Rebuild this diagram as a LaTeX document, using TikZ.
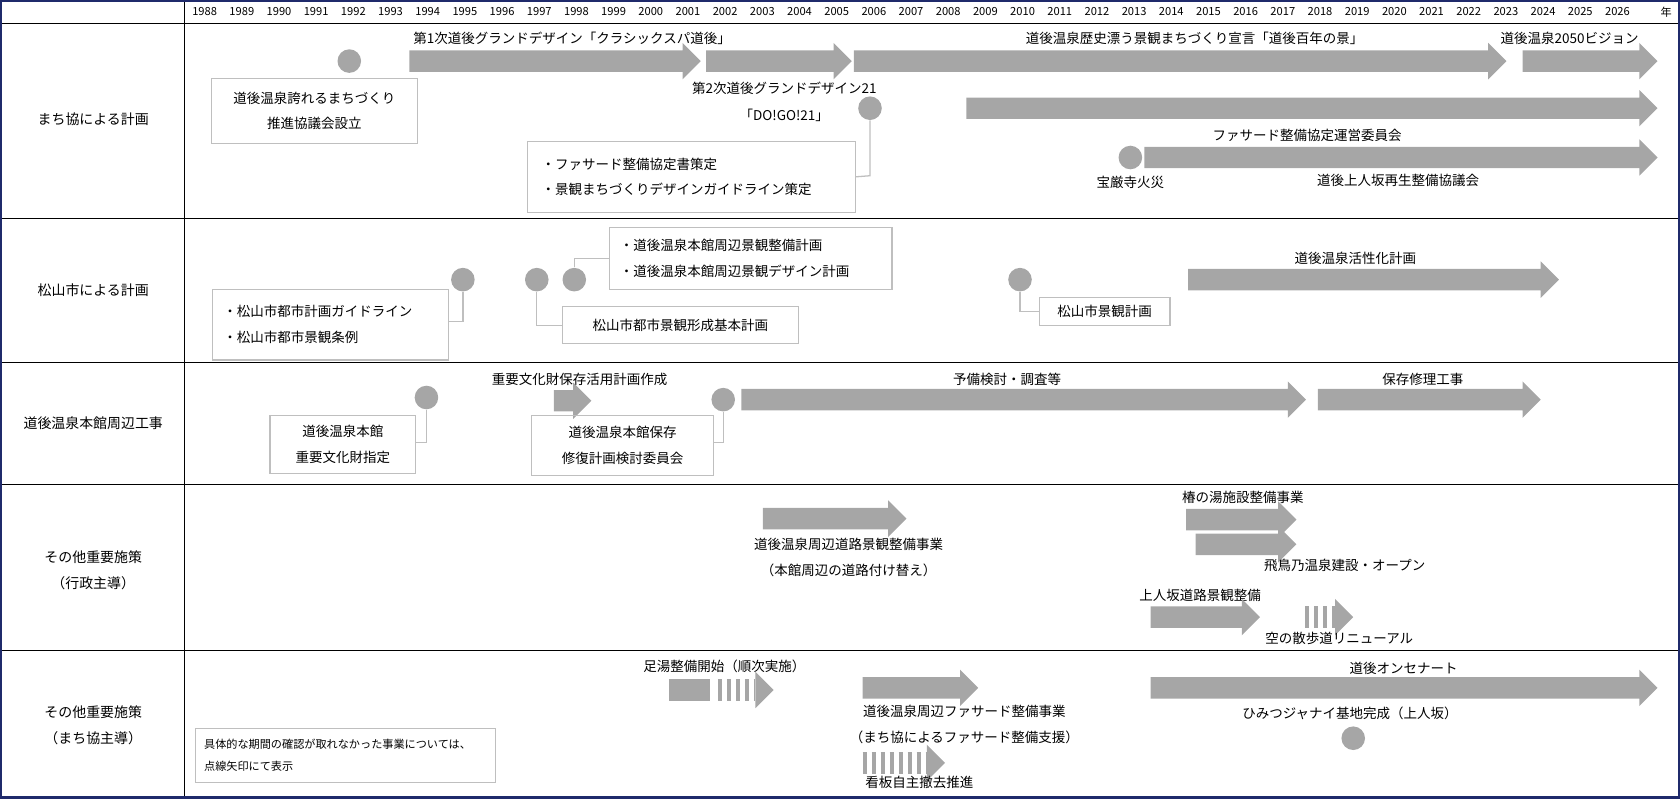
\documentclass[tikz,border=0pt]{standalone}
\usepackage{fontspec}
\setmainfont{Noto Sans CJK JP}
\usetikzlibrary{positioning,calc}
\definecolor{arrowgray}{HTML}{A6A6A6}
\definecolor{boxgray}{HTML}{BFBFBF}
\definecolor{navy}{HTML}{1F2A6B}
\tikzset{
  txt/.style={inner sep=0pt, font=\fontsize{6.3}{7}\selectfont},
  yr/.style={inner sep=0pt, font=\fontsize{5.2}{6}\selectfont},
  head/.style={inner sep=0pt, font=\fontsize{6.5}{7}\selectfont, align=center},
  note/.style={draw=boxgray, line width=0.5pt, inner sep=0pt, font=\fontsize{6.3}{7}\selectfont},
  dot/.style={circle, fill=arrowgray, inner sep=0pt, minimum size=11pt},
  link/.style={draw=boxgray, line width=0.6pt}
}
% solid arrow: from x1 to x2 at y
\newcommand{\garrow}[3]{\fill[arrowgray] (#1,#3-10) -- (#2-17,#3-10) -- (#2-17,#3-17) -- (#2,#3) -- (#2-17,#3+17) -- (#2-17,#3+10) -- (#1,#3+10) -- cycle;}
% dotted arrow: bars then head
\newcommand{\darrow}[3]{\draw[arrowgray, line width=10pt, dash pattern=on 2pt off 2.2pt] (#1,#3) -- (#2-17,#3);
  \fill[arrowgray] (#2-17,#3-17) -- (#2,#3) -- (#2-17,#3+17) -- cycle;}
\begin{document}
\begin{tikzpicture}[x=0.5pt, y=-0.5pt]
\useasboundingbox (0,0) rectangle (1568,745);
% grid
\draw[line width=0.5pt] (172,0) -- (172,745);
\foreach \yy in {22,204,338,452,607} \draw[line width=0.6pt] (0,\yy) -- (1568,\yy);
\draw[navy, line width=1.5pt] (0.75,0.75) rectangle (1567.25,744.25);
\foreach \yy [count=\i from 0] in {1988,...,2026} \node[yr] at (191+34.7*\i,11) {\yy};
\node[yr] at (1555,11) {年};

% row labels
\node[head] (r1) at (87,111) {まち協による計画};
\node[head] (r2) at (87,271) {松山市による計画};
\node[head] (r3) at (87,395) {道後温泉本館周辺工事};
\node[head, align=center] (r4) at (87,532) {その他重要施策\\[5pt]（行政主導）};
\node[head, align=center] (r5) at (87,677) {その他重要施策\\[5pt]（まち協主導）};

% まち協
\node[dot] (c1) at (326,57) {};
\node[note, minimum width=96.5pt, minimum height=30.5pt, align=center] (b1) at (293.5,103.5) {道後温泉誇れるまちづくり\\[5pt]推進協議会設立};
\garrow{382}{654}{57}
\node[txt] (t1) at (534,36) {第1次道後グランドデザイン「クラシックスパ道後」};
\garrow{659}{795}{57}
\node[txt] (t2) at (732,82) {第2次道後グランドデザイン21};
\node[txt] (t3) at (732,108) {「DO!GO!21」};
\node[dot] (c2) at (812,101) {};
\node[note, minimum width=153pt, minimum height=33pt, align=left, anchor=west, text width=140pt, inner xsep=6pt] (b2) at (492,165) {・ファサード整備協定書策定\\[5pt]・景観まちづくりデザインガイドライン策定};
\draw[link] (c2) -- (812,164) -- (b2.east);
\garrow{797}{1406}{57}
\node[txt] (t4) at (1115,36) {道後温泉歴史漂う景観まちづくり宣言「道後百年の景」};
\garrow{1421}{1547}{57}
\node[txt] (t5) at (1465,36) {道後温泉2050ビジョン};
\garrow{902}{1547}{101}
\node[txt] (t6) at (1220,126) {ファサード整備協定運営委員会};
\node[dot] (c3) at (1055,147) {};
\garrow{1068}{1547}{147}
\node[txt] (t7) at (1055,170) {宝厳寺火災};
\node[txt] (t8) at (1305,168) {道後上人坂再生整備協議会};

% 松山市
\node[dot] (c4) at (432,261) {};
\node[dot] (c5) at (501,261) {};
\node[dot] (c6) at (536,261) {};
\node[dot] (c7) at (952,261) {};
\node[note, minimum width=110pt, minimum height=33pt, align=left, anchor=west, text width=100pt, inner xsep=5pt] (b3) at (198,303) {・松山市都市計画ガイドライン\\[5pt]・松山市都市景観条例};
\draw[link] (c4) -- (432,300) -- (b3.east |- 0,300);
\node[note, minimum width=132pt, minimum height=29pt, align=left, anchor=west, text width=122pt, inner xsep=5pt] (b4) at (568,241) {・道後温泉本館周辺景観整備計画\\[5pt]・道後温泉本館周辺景観デザイン計画};
\draw[link] (c6) -- (536,241) -- (b4.west);
\node[note, minimum width=110pt, minimum height=17.5pt] (b5) at (635,303.5) {松山市都市景観形成基本計画};
\draw[link] (c5) -- (501,303.5) -- (b5.west);
\node[note, minimum width=61pt, minimum height=13pt] (b6) at (1031,291) {松山市景観計画};
\draw[link] (c7) -- (952,291) -- (b6.west);
\garrow{1109}{1455}{261}
\node[txt] (t9) at (1265,241) {道後温泉活性化計画};

% 本館周辺工事
\node[dot] (c8) at (398,371) {};
\node[note, minimum width=68pt, minimum height=27pt, align=center] (b7) at (320,415) {道後温泉本館\\[5pt]重要文化財指定};
\draw[link] (c8) -- (398,413) -- (b7.east |- 0,413);
\node[txt] (t10) at (541,354) {重要文化財保存活用計画作成};
\garrow{517}{552}{374}
\node[dot] (c9) at (675,373) {};
\node[note, minimum width=85pt, minimum height=28pt, align=center] (b8) at (581,416) {道後温泉本館保存\\[5pt]修復計画検討委員会};
\draw[link] (c9) -- (675,413) -- (b8.east |- 0,413);
\garrow{692}{1219}{373}
\node[txt] (t11) at (940,354) {予備検討・調査等};
\garrow{1230}{1438}{373}
\node[txt] (t12) at (1328,354) {保存修理工事};

% 行政主導
\garrow{712}{846}{484}
\node[txt] (t13) at (792,508) {道後温泉周辺道路景観整備事業};
\node[txt] (t14) at (792,532) {（本館周辺の道路付け替え）};
\node[txt] (t15) at (1160,464) {椿の湯施設整備事業};
\garrow{1107}{1210}{485}
\garrow{1116}{1210}{508}
\node[txt] (t16) at (1255,528) {飛鳥乃温泉建設・オープン};
\node[txt] (t17) at (1120,556) {上人坂道路景観整備};
\garrow{1074}{1176}{576}
\darrow{1218}{1263}{576}
\node[txt] (t18) at (1250,596) {空の散歩道リニューアル};

% まち協主導
\node[txt] (t19) at (676,622) {足湯整備開始（順次実施）};
\fill[arrowgray] (624,634) rectangle (663,654);
\darrow{670}{722}{644}
\garrow{805}{913}{642}
\node[txt] (t20) at (900,664) {道後温泉周辺ファサード整備事業};
\node[txt] (t21) at (900,688) {（まち協によるファサード整備支援）};
\darrow{805}{882}{712}
\node[txt] (t22) at (858,730) {看板自主撤去推進};
\garrow{1074}{1547}{642}
\node[txt] (t23) at (1310,624) {道後オンセナート};
\node[txt] (t24) at (1260,666) {ひみつジャナイ基地完成（上人坂）};
\node[dot] (c10) at (1263,689) {};
\node[note, minimum width=140pt, minimum height=25pt, align=left, anchor=west, text width=132pt, inner xsep=4pt, font=\fontsize{5.2}{6}\selectfont] (b9) at (182,705) {具体的な期間の確認が取れなかった事業については、\\[4pt]点線矢印にて表示};
\end{tikzpicture}
\end{document}
